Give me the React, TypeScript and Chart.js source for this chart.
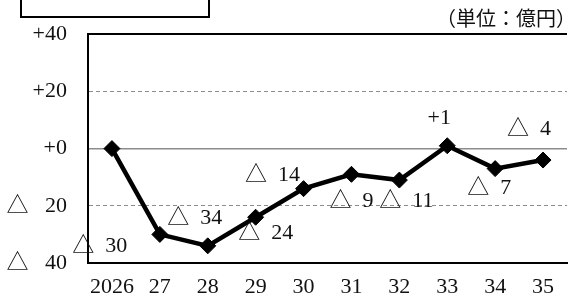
import React, { useEffect, useRef } from 'react';
import { Chart, registerables } from 'chart.js';

Chart.register(...registerables);

const categories = ['2026', '27', '28', '29', '30', '31', '32', '33', '34', '35'];
const balance = [0, -30, -34, -24, -14, -9, -11, 1, -7, -4];
const yMin = -40;
const yMax = 40;
const yStep = 20;
const unitLabel = '（単位：億円）';
const titleText = '財政収支の見通し';

// label placement relative to each point (styling only); null = no label
const labelOffsets: ([number, number] | null)[] = [
  null, [-60, 12], [-13, -28], [10, 16], [-31, -13], [0, 27], [7, 21], [-8, -28], [-6, 20], [-14, -31],
];

const FONT = "'Liberation Serif', 'Noto Sans CJK JP', serif";

const fmtValue = (v: number) => (v > 0 ? '+' + v : v === 0 ? '+0' : '△  ' + -v);
const fmtTick = (v: number) => (v > 0 ? '+' + v : v === 0 ? '+0' : '△   ' + -v);

const labelPlugin = {
  id: 'pointLabels',
  afterDatasetsDraw(chart: any) {
    const meta = chart.getDatasetMeta(0);
    const ctx = chart.ctx;
    ctx.save();
    ctx.font = `22px ${FONT}`;
    ctx.fillStyle = '#111';
    ctx.textAlign = 'center';
    ctx.textBaseline = 'middle';
    meta.data.forEach((pt: any, i: number) => {
      const off = labelOffsets[i];
      if (!off) return;
      ctx.fillText(fmtValue(balance[i]), pt.x + off[0], pt.y + off[1]);
    });
    ctx.restore();
  },
};

export default function App() {
  const ref = useRef<HTMLCanvasElement>(null);
  useEffect(() => {
    if (!ref.current) return;
    const chart = new Chart(ref.current, {
      type: 'line',
      data: {
        labels: categories,
        datasets: [
          {
            data: balance,
            borderColor: '#000',
            backgroundColor: '#000',
            borderWidth: 4.5,
            pointStyle: 'rectRot',
            pointRadius: 8,
            pointBorderWidth: 1,
            pointBackgroundColor: '#000',
            pointBorderColor: '#000',
            tension: 0,
          },
        ],
      },
      options: {
        responsive: false,
        animation: false,
        devicePixelRatio: 1,
        layout: { padding: { top: 31, right: 2, left: 0, bottom: 0 } },
        plugins: { legend: { display: false }, tooltip: { enabled: false }, title: { display: false } },
        scales: {
          x: {
            offset: true,
            grid: { display: false },
            border: { display: true, color: '#000', width: 2 },
            ticks: { color: '#111', font: { size: 22, family: FONT }, padding: 3, maxRotation: 0, autoSkip: false },
            afterFit: (s: any) => { s.height = 36; },
          },
          y: {
            min: yMin,
            max: yMax,
            border: {
              display: true,
              color: '#000',
              width: 2,
              dash: (ctx: any) => (ctx.tick && Math.abs(ctx.tick.value) === 20 ? [4, 3] : []),
            },
            grid: {
              drawTicks: false,
              color: (ctx: any) => {
                const v = ctx.tick?.value;
                return v === yMax || v === yMin ? '#000' : '#8c8c8c';
              },
              lineWidth: (ctx: any) => {
                const v = ctx.tick?.value;
                return v === yMax || v === yMin ? 2 : v === 0 ? 1.5 : 1;
              },
            },
            ticks: {
              stepSize: yStep,
              color: '#111',
              padding: 21,
              font: { size: 22, family: FONT },
              callback: (v: any) => fmtTick(Number(v)),
            },
            afterFit: (s: any) => { s.width = 88; },
          },
        },
      },
      plugins: [labelPlugin],
    });
    return () => chart.destroy();
  }, []);

  return (
    <div style={{ position: 'fixed', left: 0, top: 0, width: 572, height: 299, overflow: 'hidden', background: '#fff' }}>
      <canvas ref={ref} width={576} height={299} style={{ width: 576, height: 299, display: 'block' }} />
      <div
        style={{
          position: 'absolute', left: 20, top: -40, width: 186, height: 54,
          border: '2px solid #000', background: '#fff', boxSizing: 'content-box',
          display: 'flex', alignItems: 'flex-end', justifyContent: 'center',
        }}
      >
        <span style={{ font: `22px 'Noto Sans CJK JP'`, lineHeight: '22px', marginBottom: 19, color: '#888' }}>{titleText}</span>
      </div>
      <div
        style={{
          position: 'absolute', right: -4, top: 6, font: `20px 'Noto Sans CJK JP'`, lineHeight: '24px', color: '#111',
          whiteSpace: 'nowrap',
        }}
      >
        {unitLabel}
      </div>
    </div>
  );
}
